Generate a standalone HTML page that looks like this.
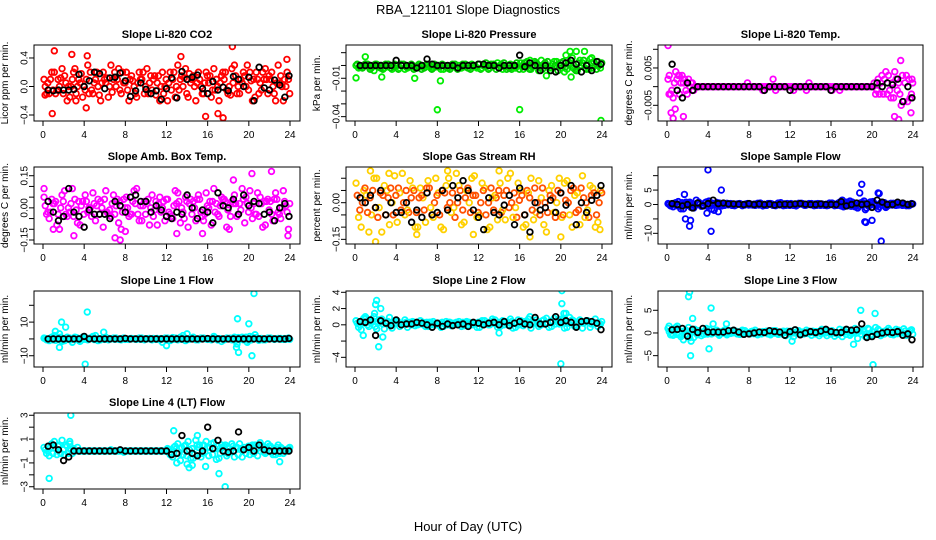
<!DOCTYPE html>
<html><head><meta charset="utf-8"><style>
body{margin:0;background:#fff;}
svg{display:block;font-family:"Liberation Sans",sans-serif;}
</style></head><body>
<svg id="chart" width="936" height="540" viewBox="0 0 936 540" xmlns="http://www.w3.org/2000/svg">
<text x="468" y="14" text-anchor="middle" font-size="13">RBA_121101  Slope Diagnostics</text>
<text x="468" y="531" text-anchor="middle" font-size="13">Hour of Day (UTC)</text>
</svg>
<script>
// ---- data (hours on x-axis; colored series A at 0.1+0.5i, C at 0.22+0.5i, B at 0.35+0.5i, D at 0.47+0.5i, black at 0.5+0.5i)
const xTicks = [0,4,8,12,16,20,24];

const co2A = [0.1,-0.1,0.2,0.0,0.15,-0.15,0.25,0.05,-0.05,0.2,0.1,-0.2,0.05,0.3,0.0,-0.1,0.2,0.15,-0.15,0.1,0.25,-0.05,0.05,0.2,-0.2,0.1,0.3,0.0,-0.15,0.15,0.2,-0.1,0.05,0.25,-0.2,0.1,0.0,0.3,-0.1,0.15,0.2,-0.15,0.05,0.25,0.1,-0.2,0.15,0.0];
const co2B = [-0.1,0.2,-0.05,0.25,-0.2,0.1,0.0,-0.15,0.3,-0.1,0.0,0.2,-0.15,0.1,0.25,0.05,-0.2,0.0,0.2,-0.1,0.05,0.15,-0.2,0.0,0.2,-0.15,0.1,0.25,0.05,-0.2,0.0,0.2,-0.15,0.1,0.15,-0.05,0.25,-0.1,0.05,0.3,-0.2,0.1,0.2,-0.1,0.0,0.3,-0.2,0.1];
const co2C = [0.0,0.1,-0.1,0.12,0.05,0.0,-0.1,0.18,0.1,-0.05,0.2,0.05,0.12,-0.08,0.1,0.2,-0.05,0.08,0.05,0.2,-0.1,0.1,0.15,-0.1,0.05,0.2,-0.05,0.12,0.18,0.0,0.1,0.05,0.15,-0.05,0.05,0.2,-0.12,0.15,0.1,0.0,0.08,0.2,-0.05,0.1,0.2,0.05,0.0,0.2];
const co2D = [0.05,-0.05,0.1,-0.1,0.0,0.2,0.1,0.0,-0.1,0.05,-0.12,0.1,0.0,0.2,-0.05,0.05,0.1,-0.1,0.1,0.0,0.15,-0.12,0.0,0.1,-0.05,0.0,0.15,-0.1,0.1,0.05,-0.1,0.15,-0.05,0.0,0.2,-0.1,0.05,0.0,0.2,-0.05,0.1,-0.1,0.1,0.15,-0.1,0.05,0.1,-0.1];
const co2Out = [[1.1,0.5],[0.9,-0.38],[2.8,0.45],[4.3,0.43],[4.2,-0.3],[18.4,0.56],[15.8,-0.42],[17.0,-0.38],[17.5,-0.44],[13.4,0.42],[23.7,0.38],[0.2,-0.12],[3.2,-0.2]];
const co2K = [-0.05,-0.06,-0.05,-0.05,-0.05,-0.04,0.17,0.0,0.08,0.2,0.18,-0.03,0.12,0.13,0.19,0.08,-0.14,-0.06,0.05,-0.04,-0.1,-0.06,-0.18,-0.03,0.12,-0.16,0.21,0.1,0.13,0.16,-0.03,-0.1,0.07,-0.05,-0.01,-0.06,0.14,0.1,0.0,0.13,-0.2,0.27,-0.02,-0.05,0.09,0.02,-0.15,0.15];

const presA = [0,-0.001,0,-0.002,0.001,0,-0.001,-0.003,0,0,-0.002,0,0,-0.001,0,-0.002,0,-0.003,-0.002,0,0,-0.001,-0.002,0,0.001,0,-0.002,0,0,-0.001,0.001,-0.002,0.002,0,-0.003,0.002,0.004,0,-0.002,0.003,-0.002,-0.003,0.006,-0.004,0.002,0,-0.002,0.003];
const presB = [-0.002,0,-0.001,-0.004,0,-0.002,0,0.001,-0.002,-0.003,0,-0.002,-0.001,0,-0.002,0,-0.003,-0.001,0,-0.002,-0.002,0,0.001,-0.002,-0.002,0,-0.001,0.002,-0.003,0,-0.002,0,-0.003,-0.002,0,-0.004,0.001,-0.002,0.003,0,-0.005,0.002,-0.003,0.004,-0.002,0.005,0,-0.002];
const presC = [0.001,-0.002,0.001,0,-0.001,-0.003,0.001,-0.001,-0.003,0.001,-0.001,-0.003,0.001,-0.002,-0.001,0.001,-0.001,0,-0.003,0.001,-0.002,0.001,-0.003,-0.001,-0.003,0.002,0.001,-0.003,0.001,-0.003,-0.003,0.002,-0.001,0.003,-0.001,0.001,-0.003,0.003,0.001,-0.004,0.003,0.001,-0.002,0.002,0.004,-0.003,0.003,0];
const presD = [-0.001,0.001,-0.003,0.001,-0.002,0.001,-0.002,0,0.001,-0.001,0.001,-0.001,-0.003,0.001,-0.003,-0.001,0.001,-0.002,0.001,-0.003,0.001,-0.002,0,0.001,0,-0.003,0.001,-0.002,0.002,-0.002,0,-0.003,0.002,-0.003,0.003,-0.002,0.002,-0.004,0,0.002,-0.001,0.004,-0.004,0,-0.003,0.002,-0.003,0.002];
const presOut = [[0.1,-0.0097],[1.0,0.0068],[8.0,-0.0346],[16.0,-0.0345],[23.9,-0.043],[8.3,-0.012],[5.8,-0.01],[2.6,-0.009],[20.9,0.011],[21.5,0.011],[22.3,0.011],[20.5,0.008],[23.0,0.006],[17.0,0.004],[18.6,-0.008],[21.0,-0.009]];
const presK = [0,0,0,0,0,0,0,0.004,0,0,0,-0.002,0,0.005,0.001,0,0,0,0,-0.002,0,0,0,0.001,0.001,0,0,-0.002,0,0,0,0.008,-0.001,0.002,0,-0.004,0,-0.004,-0.005,0,0.002,0.004,0.001,-0.005,0,-0.004,0.003,0.001];

const tempA = [0.002,-0.003,0.003,0.001,0.002,-0.001,0,0,0,0,0,0,0,0,0,0,0,0,0,0,0,-0.001,0,0,0,0,0,-0.001,0,0,0,0,-0.001,0,0,0,0,0,0,0,0,0.002,-0.002,0.003,-0.003,0.001,-0.004,0.002];
const tempB = [-0.002,0.004,0.001,-0.001,0.001,0,0,0,0,0,0,0,0,0,0,0.001,0,0,-0.001,0,0.002,0,0,0,-0.001,0,0,0.001,0,0,0,0,0,-0.001,0,0,0,0,0,0,-0.002,0.001,0.004,-0.003,0.002,-0.005,0.003,-0.002];
const tempC = [0.003,0.001,-0.002,0.002,0,0,0,0,0,0,0,0,0,0,0,0,0,0,0,0,0,0,0,0,0,0,0,0,0,0,0,0,0,0,0,0,0,0,0,0,0.001,-0.002,0.002,-0.001,0.004,-0.002,0.001,-0.003];
const tempD = [-0.001,0.002,0.003,-0.002,0.001,0,0,0,0,0,0,0,0,0,0,0,0,0,0,0,0,0,0,0,0,0,0,0,0,0,0,0,0,0,0,0,0,0,0,0,-0.001,0.003,-0.002,0.001,-0.001,0.003,-0.004,0.001];
const tempOut = [[0.1,0.011],[0.4,-0.007],[0.8,-0.006],[1.6,-0.008],[0.2,-0.002],[22.6,-0.0088],[22.2,-0.008],[23.8,-0.007],[22.8,0.007],[0.6,-0.0085],[1.2,0.003],[23.9,0.002]];
const tempK = [0.006,-0.001,-0.003,0.001,-0.001,0,0,0,0,0,0,0,0,0,0,0,0,0,-0.001,0,0,0,0,-0.001,0,0,0,0,0,0,0,-0.001,0,0,0,0,0,0,0,0,0.001,0,0.001,0.0005,0.002,-0.004,0,-0.003];

const ambA = [0.05,-0.05,0.02,-0.1,0.08,-0.02,0.04,-0.08,0.06,0.0,-0.06,0.03,0.08,-0.04,0.01,-0.1,0.05,-0.03,0.09,-0.06,0.02,0.06,-0.08,0.0,0.04,-0.05,0.07,-0.02,-0.09,0.03,0.06,-0.06,0.0,0.09,-0.04,0.04,-0.1,0.06,0.02,-0.07,0.08,-0.03,0.05,-0.08,0.03,0.07,-0.05,0.01];
const ambB = [-0.03,0.04,-0.08,0.06,-0.04,0.09,-0.07,0.03,-0.02,0.07,0.04,-0.09,-0.03,0.06,-0.07,0.04,-0.04,0.08,-0.06,0.03,-0.08,-0.01,0.05,-0.06,-0.03,0.08,-0.07,0.05,0.04,-0.06,-0.02,0.07,-0.08,0.02,0.05,-0.09,0.03,-0.04,0.09,0.02,-0.05,0.07,-0.09,0.04,-0.06,-0.02,0.08,-0.1];
const ambC = [0.01,-0.02,0.03,0.0,-0.03,0.02,-0.01,0.01,0.03,-0.04,0.01,0.0,-0.02,0.02,0.04,-0.02,0.0,0.03,-0.03,0.01,0.04,-0.04,0.02,0.03,-0.02,0.01,0.03,-0.05,0.02,0.0,0.04,-0.03,0.03,-0.02,0.01,0.03,-0.04,0.02,-0.01,0.05,0.0,-0.03,0.02,0.03,-0.03,0.04,0.0,-0.02];
const ambD = [-0.02,0.02,-0.03,0.03,0.0,-0.04,0.03,-0.03,0.0,0.02,-0.03,0.04,-0.01,-0.03,0.03,0.0,-0.03,0.02,0.01,-0.03,0.0,0.03,-0.02,0.04,-0.04,0.02,0.0,0.03,-0.03,0.04,-0.04,0.01,0.03,-0.03,0.04,-0.01,0.02,-0.03,0.04,-0.02,0.02,-0.04,0.03,-0.01,0.04,-0.03,0.03,0.02];
const ambOut = [[0.1,0.09],[7.0,-0.14],[7.5,-0.15],[13.0,-0.12],[23.8,-0.13],[22.2,0.17],[18.5,0.13],[20.3,0.16],[3.0,-0.13],[1.0,-0.1],[15.5,-0.12],[8.0,-0.11]];
const ambK = [0.03,-0.02,-0.06,-0.04,0.09,-0.02,-0.04,-0.09,-0.01,-0.03,-0.03,-0.03,-0.05,0.03,0.01,-0.02,0.05,0.06,0.03,0.03,-0.02,0.01,-0.01,-0.04,-0.05,-0.02,-0.03,0.06,0.0,-0.05,-0.01,-0.02,-0.07,0.07,0.01,0.0,0.04,-0.03,0.06,0.01,0.03,0.02,-0.03,-0.02,-0.06,0.0,0.02,-0.04];

const rhA = [0.08,-0.1,0.03,-0.05,0.1,-0.12,0.05,0.0,-0.08,0.12,-0.03,0.06,-0.1,0.02,0.09,-0.06,0.04,-0.11,0.1,-0.02,0.07,-0.08,0.0,0.11,-0.05,0.06,-0.1,0.03,0.08,-0.07,0.12,-0.02,0.05,-0.09,0.1,-0.04,0.02,-0.12,0.07,0.0,-0.06,0.09,-0.1,0.04,0.11,-0.03,0.06,-0.08];
const rhB = [-0.06,0.05,-0.12,0.1,-0.02,0.07,-0.09,0.11,0.04,-0.05,0.09,-0.1,0.06,-0.08,-0.02,0.1,-0.1,0.07,-0.04,0.12,-0.09,0.05,0.1,-0.06,0.08,-0.11,0.02,-0.07,-0.03,0.1,-0.06,0.08,-0.1,0.04,-0.07,0.09,-0.09,0.05,-0.04,0.1,0.08,-0.05,0.03,-0.09,-0.06,0.07,-0.1,0.05];
const rhC = [0.03,0.0,-0.04,0.05,-0.06,0.03,0.02,-0.05,0.06,0.0,-0.04,0.05,0.02,-0.03,0.06,0.0,-0.05,0.04,0.0,-0.06,0.05,0.02,-0.04,0.03,0.0,-0.05,0.06,0.02,-0.04,0.05,0.0,-0.06,0.03,0.05,-0.03,0.0,0.06,-0.04,0.02,0.05,-0.05,0.0,0.06,-0.03,0.02,-0.06,0.04,0.0];
const rhD = [-0.03,0.06,0.02,-0.02,0.04,-0.05,0.06,0.03,-0.03,0.05,0.02,-0.04,0.03,0.06,-0.05,0.03,0.05,-0.02,0.04,0.0,-0.03,0.06,0.03,-0.04,0.05,0.0,-0.03,0.05,0.03,-0.02,0.04,0.01,-0.05,0.02,0.06,-0.05,0.0,0.03,-0.06,0.04,0.01,0.05,-0.04,0.06,0.0,0.03,-0.05,0.04];
const rhOut = [[2.0,-0.16],[1.5,0.13],[3.3,0.12],[6.0,-0.13],[14.0,0.13],[20.0,-0.14],[11.5,-0.13],[17.0,-0.14],[23.8,-0.11],[9.0,0.13]];
const rhK = [0.02,0.0,0.03,-0.02,0.05,-0.05,0.0,-0.04,-0.04,0.0,-0.08,-0.03,-0.06,0.04,-0.05,-0.04,0.05,-0.03,0.07,0.02,0.09,0.05,-0.03,-0.06,-0.11,0.02,-0.04,-0.05,-0.01,0.03,-0.09,0.06,-0.05,-0.12,0.0,-0.03,-0.02,0.01,-0.04,0.04,-0.01,0.07,-0.09,0.0,-0.04,0.01,0.03,0.07];

const flowA = [0.3,-0.8,1.0,-1.5,0.5,-1.2,0.8,-0.5,1.2,-2,0.5,-0.3,0.2,-0.4,0.3,-0.2,0.2,-0.3,0.5,-0.2,0.3,-0.4,0.6,-0.3,0.3,-0.5,0.4,-0.2,0.3,-0.3,0.2,-0.4,0.5,-0.3,1.5,-0.5,0.8,-1.2,0.6,-0.4,1.0,-1.5,0.5,-0.3,0.4,-0.2,0.3,-0.4];
const flowB = [-0.5,0.6,-1.5,0.8,-1.0,1.5,-0.6,0.9,-1.6,0.7,-0.5,0.4,-0.3,0.2,-0.4,0.3,-0.2,0.4,-0.5,0.3,-0.3,0.5,-0.4,0.2,-0.3,0.4,-0.2,0.3,-0.4,0.2,-0.3,0.5,-0.4,0.8,-0.6,1.2,-0.8,0.5,-1.8,0.9,-0.6,0.5,-1.0,0.4,-0.3,0.2,-0.4,0.3];
const flowC = [0.0,0.4,-0.6,0.3,0.8,-0.5,0.2,0.6,-0.4,0.2,-0.2,0.1,0.3,-0.2,0.1,0.2,-0.1,0.2,0.0,-0.3,0.2,0.1,-0.2,0.3,0.0,-0.2,0.3,0.0,-0.2,0.3,0.0,-0.3,0.2,0.5,-0.8,0.6,0.3,-0.6,1.2,-0.5,0.4,-0.8,0.6,0.2,-0.2,0.3,0.0,-0.2];
const flowD = flowC.map(v=>-v);
const flowOut = [[1.7,3.5],[1.8,-5],[2.2,-7.5],[2.3,-5.5],[4.3,-9.3],[4.0,12],[5.3,5],[19.3,-6],[18.8,4],[19.0,7],[19.4,-6.2],[20.6,4],[20.7,3.8],[20.0,-5.5],[20.9,-12.7],[3.9,-3],[5.0,-2.5]];
const flowK = [0.3,0.0,-0.5,0.0,-1.2,0.5,-0.5,0.3,1.5,0.3,0.5,0.2,0.2,0.1,0.0,0.3,0.0,0.2,0.0,0.1,-0.2,0.0,0.1,0.0,0.2,0.3,0.1,0.0,0.0,0.2,0.0,0.0,0.0,1.0,-0.5,0.0,0.5,0.0,0.2,-1.0,1.5,0.8,0.0,0.0,0.8,0.5,0.0,0.2];

const l1A = [0.5,-1,2,3,-1,0.5,1,-1.5,0,0.5,2,-0.5,1,0,0.5,-0.5,0,0.3,-0.3,0.5,0,-0.5,0.3,-2,0.5,0.8,-0.5,2,0,1,-0.5,0.5,0,1.5,0,-0.5,0.3,1,-0.5,0.5,1.5,2.5,0,-0.5,0.5,0,0.3,-0.3];
const l1B = [-0.5,1,-0.5,-1.5,1,-2,0.5,1,-0.5,1.5,-1,0.5,-0.5,0.5,-0.3,0.5,-0.3,0,0.5,-0.5,0.3,0,-0.5,0.5,-1,0.5,1,-1,0.5,-0.5,0.5,0,-0.5,0.3,-1.5,0.5,-0.5,-3,1,-2,1,0,-0.5,0.5,0,0.3,-0.3,0.5];
const l1C = [0.2,0.5,-0.8,1.0,0.3,-0.5,0.8,0.2,-0.3,0.4,0.0,0.3,-0.2,0.2,0.0,0.3,-0.2,0.1,0.2,-0.1,0.2,0.3,-0.2,0.1,0.3,-0.3,0.2,0.5,-0.3,0.2,0.0,0.3,-0.2,0.6,0.2,-0.3,0.4,-0.8,0.5,1.0,-0.6,0.8,0.3,-0.2,0.3,0.1,-0.2,0.2];
const l1D = l1C.map(v=>-v);
const l1Out = [[1.6,-5],[1.8,10],[2.2,7],[4.3,16],[4.1,-15],[5.9,4],[12.0,-4],[18.9,12],[18.8,-5],[19.0,-8],[20.0,9],[20.5,27],[20.3,-10],[1.2,4.5],[14.0,3]];
const l1K = [0,0,0,0,0,0,0,1.5,0,0,0,0,0,0,0,0.3,0,0,0,0,0,0,0,0,0,0,0,0,0,0,0,0.2,0,0,0,0,0,0,0,0,0,0,0,0,0,0,0,0.3];

const l2A = [0.5,-0.6,0.8,0.3,-0.5,0.7,0.2,-0.4,0.5,0.1,-0.3,0.4,0.0,0.3,-0.2,0.4,0.1,-0.2,0.3,0.0,0.4,-0.1,0.3,0.2,-0.3,0.5,0.0,0.6,-0.2,0.4,0.7,-0.3,0.5,0.2,-0.4,0.6,0.0,0.8,-0.2,0.5,0.7,-0.3,0.6,0.2,-0.4,0.5,0.3,-0.2];
const l2B = [-0.3,0.8,-0.2,1.0,0.6,-0.5,0.9,0.5,-0.2,0.6,0.3,-0.1,0.5,-0.2,0.3,0.0,-0.3,0.4,-0.1,0.3,-0.2,0.4,0.0,-0.3,0.5,0.1,0.7,-0.3,0.5,0.0,-0.4,0.6,-0.1,0.7,0.3,-0.2,0.6,-0.3,0.8,0.1,-0.4,0.9,-0.2,0.6,0.4,-0.3,0.7,0.1];
const l2C = [0.2,0.4,0.0,0.5,0.2,0.1,0.4,0.0,0.3,0.2,0.1,0.3,0.2,0.1,0.3,0.1,0.2,0.1,0.3,0.2,0.1,0.3,0.2,0.1,0.3,0.2,0.4,0.1,0.3,0.2,0.4,0.1,0.3,0.4,0.1,0.3,0.5,0.2,0.4,0.3,0.6,0.2,0.5,0.3,0.2,0.4,0.3,0.2];
const l2D = [0.0,0.2,0.3,-0.2,0.4,0.3,0.0,0.2,0.1,0.3,0.0,0.2,0.1,0.3,0.0,0.2,0.3,0.0,0.2,0.1,0.3,0.0,0.2,0.3,0.1,0.0,0.2,0.3,0.0,0.3,0.2,0.0,0.4,0.1,0.3,0.0,0.2,0.4,0.1,0.6,0.2,0.4,0.0,0.3,0.5,0.1,0.2,0.4];
const l2Out = [[2.0,2.5],[2.1,3.0],[1.9,1.4],[2.5,2.0],[2.3,-2.7],[0.8,-1.3],[2.7,-1.5],[20.1,4.2],[20.1,2.6],[20.0,-4.8],[20.3,1.4],[20.5,1.4],[17.0,1.0],[14.0,-1.0],[1.0,1.0]];
const l2K = [0.4,0.3,0.6,-1.3,0.5,0.2,-0.1,0.6,0.0,0.1,0.1,0.3,0.2,0.0,-0.3,0.2,-0.2,0.1,-0.1,0.0,0.1,-0.2,0.3,0.2,0.0,0.2,0.3,0.0,0.4,-0.1,0.2,0.4,0.1,0.0,0.9,0.1,0.1,0.3,1.0,0.3,0.5,0.3,-0.3,0.4,0.5,0.4,0.2,-0.6];

const l3A = [1.0,-0.5,0.8,-1.5,1.2,-1.0,0.5,-0.3,0.8,0.2,-0.5,0.6,0.0,0.4,-0.3,0.5,-0.2,0.6,0.0,0.3,-0.4,0.5,0.0,-0.6,0.4,0.2,-0.3,0.6,-0.5,0.3,0.8,-0.6,0.5,0.0,-0.8,0.7,0.2,-1.2,0.6,1.0,-0.5,0.8,0.3,1.0,-0.4,0.6,0.9,0.2];
const l3B = [-0.4,1.2,-0.8,0.6,-1.8,0.4,-0.6,1.0,-0.2,0.6,0.3,-0.4,0.5,-0.2,0.6,-0.1,0.4,-0.4,0.3,-0.2,0.5,-0.3,0.4,0.3,-0.8,0.5,-0.2,0.4,0.3,-0.6,0.5,0.2,-0.7,0.8,0.3,-0.5,1.0,0.4,-0.8,-0.5,1.2,-0.6,0.5,-0.3,0.8,0.2,-0.5,0.7];
const l3C = [0.3,0.6,-0.3,0.5,-1.0,0.8,0.2,0.5,0.0,0.4,0.1,0.3,-0.1,0.4,0.2,0.0,0.3,0.1,-0.2,0.4,0.1,0.2,-0.2,0.4,0.0,0.3,0.2,-0.1,0.4,0.2,0.0,0.5,0.2,-0.3,0.6,0.2,0.0,0.5,0.3,0.8,0.2,0.5,-0.2,0.6,0.3,0.0,0.4,0.5];
const l3D = l3C.map(v=>v*-0.5);
const l3Out = [[2.1,8],[2.2,9],[2.3,-5],[2.5,3.2],[4.3,5.5],[4.1,-3.5],[4.5,2],[5.8,2],[18.9,5],[20.3,4.3],[20.1,-7],[12.2,-1.8],[18.2,-2.5],[0.2,1.5],[1.0,1.5]];
const l3K = [0.7,0.8,1.0,-0.7,0.8,0.1,1.0,0.2,0.2,0.2,0.2,0.5,0.6,0.2,-0.3,-0.2,0.0,0.2,0.1,0.5,0.3,0.2,-0.5,0.3,0.7,-0.4,0.0,0.3,0.1,0.4,0.8,0.3,0.1,0.1,0.8,0.6,0.7,2.0,-1.0,-0.8,-0.3,0.0,0.2,0.1,0.3,-0.5,-0.2,-1.5];

const l4A = [0.3,-0.4,0.8,0.5,-0.3,0.6,0.1,0,0,0,0,0,0,0.1,0,0,0,0,0,0,0,0,0,0,0.2,-0.5,0.6,-0.3,0.8,-0.6,0.3,0.5,-0.4,0.7,-0.6,0.4,0.2,-0.5,0.6,0.3,-0.3,0.5,0.7,-0.2,0.4,-0.3,0.3,0.1];
const l4B = [-0.2,0.6,-0.3,0.9,0.4,-0.2,0.3,0,0,0,0,0,0,0,0,-0.1,0,0,0,0,0,0,0,0,-0.3,0.4,-0.8,0.5,-0.6,0.9,-0.5,0.8,0.6,-0.7,0.5,-0.4,0.6,0.3,-0.5,0.2,0.5,-0.4,0.3,0.6,-0.3,0.5,-0.2,0.2];
const l4C = [0.1,0.3,0.2,-0.2,0.5,0.1,0,0,0,0,0,0,0,0,0,0,0,0,0,0,0,0,0,0,0.1,0.3,-0.2,0.4,0.1,-0.3,0.5,-0.1,0.3,0.2,-0.2,0.5,0.0,0.3,0.2,-0.2,0.4,0.1,0.5,0.2,-0.1,0.3,0.2,0.0];
const l4D = [0.0,-0.2,0.4,0.1,-0.2,0.2,0,0,0,0,0,0,0,0,0,0,0,0,0,0,0,0,0,0,-0.1,0.2,0.3,-0.4,0.2,0.5,-0.2,0.3,-0.3,0.4,0.3,-0.2,0.4,-0.3,0.1,0.4,-0.2,0.3,-0.1,0.4,0.2,-0.2,0.1,0.3];
const l4Out = [[2.7,3],[0.6,-2.3],[2.6,0.8],[13.0,-1],[14.2,-1.4],[14.5,-1.2],[17.7,-3],[17.1,-1.9],[15.8,-1.3],[12.7,1.7],[15.0,1.3],[23.0,-0.9],[14.0,-1.1]];
const l4K = [0.4,0.5,0.1,-0.8,-0.5,0,0,0,0,0,0,0,0,0,0.1,0,0,0,0,0,0,0,0,0,-0.3,-0.2,1.3,0,-0.2,-0.4,0,2.0,0.2,0.9,0,-0.1,0,1.6,0.1,0.3,0,0.5,0.1,0,0,0,0,0];

// ---- panel layout
const panels = [
 {name:"co2",title:"Slope Li-820 CO2",ylab:"Licor ppm per min.",box:[34,45,300,121],ylim:[-0.484,0.582],ticks:[-0.4,0,0.4],labels:{"-0.4":"−0.4","0":"0.0","0.4":"0.4"},S:[co2A,co2C,co2B,co2D],O:co2Out,K:co2K,c:["#ff0000","#ff0000","#ff0000","#ff0000"]},
 {name:"pressure",title:"Slope Li-820 Pressure",ylab:"kPa per min.",box:[346,45,612,121],ylim:[-0.0434,0.016],ticks:[0.01,0,-0.01,-0.02,-0.03,-0.04],labels:{"-0.01":"−0.01","-0.04":"−0.04"},S:[presA,presC,presB,presD],O:presOut,K:presK,c:["#00ee00","#00cc00","#00ee00","#00cc00"]},
 {name:"temp",title:"Slope Li-820 Temp.",ylab:"degrees C per min.",box:[658,45,923,121],ylim:[-0.0092,0.01115],ticks:[0.01,0.005,0,-0.005],labels:{"0.005":"0.005","-0.005":"−0.005"},S:[tempA,tempC,tempB,tempD],O:tempOut,K:tempK,c:["#ff00ff","#ff00ff","#ff00ff","#ff00ff"]},
 {name:"amb-box-temp",title:"Slope Amb. Box Temp.",ylab:"degrees C per min.",box:[34,167,300,244],ylim:[-0.1687,0.1907],ticks:[0.15,0.1,0.05,0,-0.05,-0.1,-0.15],labels:{"0.15":"0.15","0":"0.00","-0.15":"−0.15"},S:[ambA,ambC,ambB,ambD],O:ambOut,K:ambK,c:["#ff00ff","#ff00ff","#ff00ff","#ff00ff"]},
 {name:"gas-stream-rh",title:"Slope Gas Stream RH",ylab:"percent per min.",box:[346,167,612,244],ylim:[-0.169,0.146],ticks:[0.1,0.05,0,-0.05,-0.1,-0.15],labels:{"0":"0.00","-0.15":"−0.15"},S:[rhA,rhC,rhB,rhD],O:rhOut,K:rhK,c:["#ffd000","#ff5000","#ffd000","#ff5000"]},
 {name:"sample-flow",title:"Slope Sample Flow",ylab:"ml/min per min.",box:[658,167,923,244],ylim:[-13.7,13.0],ticks:[10,5,0,-5,-10],labels:{"5":"5","0":"0","-10":"−10"},S:[flowA,flowC,flowB,flowD],O:flowOut,K:flowK,c:["#0000ff","#0000ff","#0000ff","#0000ff"]},
 {name:"line1-flow",title:"Slope Line 1 Flow",ylab:"ml/min per min.",box:[34,291,300,367],ylim:[-16.7,28.5],ticks:[20,10,0,-10],labels:{"10":"10","-10":"−10"},S:[l1A,l1C,l1B,l1D],O:l1Out,K:l1K,c:["#00ffff","#00ffff","#00ffff","#00ffff"]},
 {name:"line2-flow",title:"Slope Line 2 Flow",ylab:"ml/min per min.",box:[346,291,612,367],ylim:[-5.19,4.16],ticks:[4,2,0,-2,-4],labels:{"4":"4","2":"2","0":"0","-4":"−4"},S:[l2A,l2C,l2B,l2D],O:l2Out,K:l2K,c:["#00ffff","#00ffff","#00ffff","#00ffff"]},
 {name:"line3-flow",title:"Slope Line 3 Flow",ylab:"ml/min per min.",box:[658,291,923,367],ylim:[-7.5,9.25],ticks:[5,0,-5],labels:{"5":"5","0":"0","-5":"−5"},S:[l3A,l3C,l3B,l3D],O:l3Out,K:l3K,c:["#00ffff","#00ffff","#00ffff","#00ffff"]},
 {name:"line4-flow",title:"Slope Line 4 (LT) Flow",ylab:"ml/min per min.",box:[34,413,300,489],ylim:[-3.19,3.19],ticks:[3,2,1,0,-1,-2,-3],labels:{"3":"3","1":"1","-1":"−1","-3":"−3"},S:[l4A,l4C,l4B,l4D],O:l4Out,K:l4K,c:["#00ffff","#00ffff","#00ffff","#00ffff"]}
];
const seriesOffsets=[0.1,0.22,0.35,0.47];

const NS="http://www.w3.org/2000/svg";
const svg=document.getElementById('chart');
function mk(tag,attrs,parent){const e=document.createElementNS(NS,tag);for(const k in attrs)e.setAttribute(k,attrs[k]);parent.appendChild(e);return e;}

panels.forEach(p=>{
  const [x0,y0,x1,y1]=p.box;
  const xs=h=>x0+9+h*(x1-x0-19)/24;
  const ys=v=>y1-(v-p.ylim[0])/(p.ylim[1]-p.ylim[0])*(y1-y0);
  const g=mk('g',{},svg);
  
  
  const t=mk('text',{x:(x0+x1)/2,y:y0-7,'text-anchor':'middle','font-size':'11','font-weight':'bold'},g);
  t.textContent=p.title;
  
  
  const cx=x0-26, cy=(y0+y1)/2;
  const yl=mk('text',{x:cx,y:cy,'text-anchor':'middle','font-size':'10',transform:`rotate(-90 ${cx} ${cy})`},g);
  yl.textContent=p.ylab;
  
  
  const xa=mk('g',{stroke:'#000','stroke-width':1},g);
  
  
  mk('line',{x1:xs(0),x2:xs(24),y1:y1,y2:y1},xa);
  xTicks.forEach(h=>{
    mk('line',{x1:xs(h),x2:xs(h),y1:y1,y2:y1+5},xa);
    const tl=mk('text',{x:xs(h),y:y1+17,'text-anchor':'middle','font-size':'10',stroke:'none'},g);
    tl.textContent=h;
    
    
  });
  const ya=mk('g',{stroke:'#000','stroke-width':1},g);
  
  
  const tv=p.ticks;
  mk('line',{x1:x0,x2:x0,y1:ys(Math.max(...tv)),y2:ys(Math.min(...tv))},ya);
  tv.forEach(v=>{
    const y=ys(v);
    mk('line',{x1:x0-5,x2:x0,y1:y,y2:y},ya);
    const lab=p.labels[String(v)];
    if(lab!==undefined){
      const lx=x0-9;
      const tl=mk('text',{x:lx,y:y,'text-anchor':'middle','font-size':'10','dominant-baseline':'central',transform:`rotate(-90 ${lx} ${y})`},g);
      tl.textContent=lab;
      
      
    }
  });
  const clipId='clip-'+p.name;
  const cp=mk('clipPath',{id:clipId},g);
  mk('rect',{x:x0,y:y0,width:x1-x0,height:y1-y0},cp);
  const pts=mk('g',{'clip-path':`url(#${clipId})`,fill:'none','stroke-width':1.8},g);
  
  
  function dot(h,v,color,nm){
    const c=mk('circle',{cx:xs(h),cy:ys(v),r:2.8,stroke:color},pts);
    
    
  }
  p.S.forEach((arr,si)=>arr.forEach((v,i)=>dot(seriesOffsets[si]+0.5*i,v,p.c[si],'point-colored')));
  p.O.forEach(o=>dot(o[0],o[1],p.c[0],'point-outlier'));
  p.K.forEach((v,i)=>{const h=Math.min(0.5+0.5*i,23.9);dot(h,v,'#000','point-black');});
  const box=mk('rect',{x:x0,y:y0,width:x1-x0,height:y1-y0,fill:'none',stroke:'#000','stroke-width':1},g);
  
  
});
</script>
</body></html>
